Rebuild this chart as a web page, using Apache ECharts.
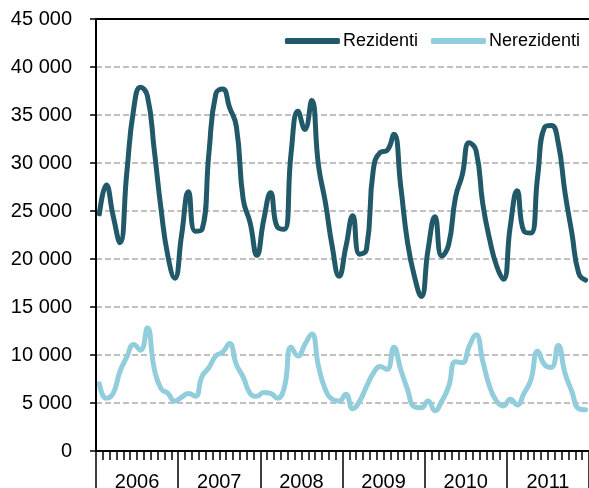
<!DOCTYPE html>
<html>
<head>
<meta charset="utf-8">
<script src="https://cdn.jsdelivr.net/npm/echarts@6/dist/echarts.min.js"></script>
<style>
html, body { margin: 0; padding: 0; background: #fff; }
#chart-container { width: 589px; height: 488px; }
</style>
</head>
<body>
<div id="chart-container"></div>
<script>
'use strict';

const years = ['2006', '2007', '2008', '2009', '2010', '2011'];

const rezidenti = [
    24700, 27700, 24500, 21700, 29000, 35600, 37900, 37000, 31400, 25200, 20300, 18000,
    22500, 27000, 22900, 23100, 31100, 37200, 37700, 35800, 33800, 26200, 23800, 20400,
    24100, 26900, 23300, 23100, 31100, 35400, 33500, 36500, 29700, 25900, 21300, 18200,
    21300, 24500, 20500, 21000, 29300, 31100, 31300, 33000, 27600, 21700, 18200, 16100,
    21000, 24400, 20300, 21500, 26400, 28800, 32100, 31300, 25700, 22000, 19300, 17900,
    23400, 27100, 22900, 22700, 28600, 33700, 33900, 32100, 26900, 22700, 18500, 17800
];

const nerezidenti = [
    7000, 5500, 6000, 8300, 9800, 11100, 10500, 12800, 8600, 6500, 6000, 5200,
    5600, 6000, 5700, 7800, 8700, 9900, 10300, 11200, 9000, 7700, 6000, 5700,
    6100, 6000, 5500, 6600, 10800, 9900, 11100, 12200, 8800, 6400, 5400, 5200,
    5900, 4400, 5200, 6700, 8100, 8800, 8500, 10800, 8500, 6400, 4600, 4500,
    5200, 4200, 5200, 6700, 9300, 9200, 10900, 12100, 9300, 6700, 5200, 4700,
    5400, 4800, 6000, 7400, 10400, 9000, 8700, 11000, 8100, 6200, 4400, 4300
];

// one category per month
const months = [];
years.forEach(y => {
    for (let m = 1; m <= 12; m++) {
        months.push(y + '-' + m);
    }
});

const font = "'Liberation Sans', Arial, sans-serif";
const black = '#000';

function fmt(v) {
    return String(v).replace(/\B(?=(\d{3})+(?!\d))/g, ' ');
}

const myChart = echarts.init(document.getElementById('chart-container'), null, { renderer: 'canvas' });

const option = {
    backgroundColor: '#fff',
    animation: false,
    grid: {
        left: 96,
        right: 0,
        top: 19,
        bottom: 37,
        containLabel: false,
        outerBoundsMode: 'none'
    },
    legend: {
        right: 9,
        top: 32,
        padding: 0,
        itemWidth: 55,
        itemHeight: 6,
        itemGap: 13,
        icon: 'roundRect',
        textStyle: { fontFamily: font, fontSize: 18, color: black, padding: [0, 0, 0, -2] },
        data: ['Rezidenti', 'Nerezidenti']
    },
    xAxis: [
        {
            type: 'category',
            data: months,
            boundaryGap: true,
            position: 'bottom',
            axisLine: { show: true, lineStyle: { color: black, width: 2 } },
            axisTick: { show: true, interval: 0, length: 9, lineStyle: { color: black, width: 1.5 } },
            axisLabel: { show: false },
            splitLine: { show: false }
        },
        {
            type: 'category',
            data: years,
            boundaryGap: true,
            position: 'bottom',
            axisLine: { show: true, lineStyle: { color: black, width: 2 } },
            axisTick: { show: true, interval: 0, length: 40, lineStyle: { color: black, width: 1.5 } },
            axisLabel: {
                interval: 0,
                margin: 21,
                lineHeight: 20,
                verticalAlign: 'top',
                fontFamily: font,
                fontSize: 20,
                color: black
            },
            splitLine: { show: false }
        },
        {
            type: 'category',
            data: months,
            position: 'top',
            axisLine: { show: true, lineStyle: { color: black, width: 2 } },
            axisTick: { show: false },
            axisLabel: { show: false },
            splitLine: { show: false }
        }
    ],
    yAxis: {
        type: 'value',
        min: 0,
        max: 45000,
        interval: 5000,
        axisLine: { show: true, lineStyle: { color: black, width: 2 } },
        axisTick: { show: true, length: 6, lineStyle: { color: black, width: 1.5 } },
        axisLabel: {
            margin: 24,
            fontFamily: font,
            fontSize: 20,
            color: black,
            formatter: fmt
        },
        splitLine: {
            show: true,
            lineStyle: { color: '#c0c0c0', width: 2, type: [6, 3] }
        }
    },
    series: [
        {
            name: 'Rezidenti',
            type: 'line',
            xAxisIndex: 0,
            data: rezidenti,
            smooth: 0.5,
            symbol: 'none',
            color: '#215968',
            lineStyle: { width: 5, color: '#215968', cap: 'round', join: 'round' }
        },
        {
            name: 'Nerezidenti',
            type: 'line',
            xAxisIndex: 0,
            data: nerezidenti,
            smooth: 0.5,
            symbol: 'none',
            color: '#92cddc',
            lineStyle: { width: 5, color: '#92cddc', cap: 'round', join: 'round' }
        }
    ]
};

myChart.setOption(option);
window.addEventListener('resize', myChart.resize);
</script>
</body>
</html>
